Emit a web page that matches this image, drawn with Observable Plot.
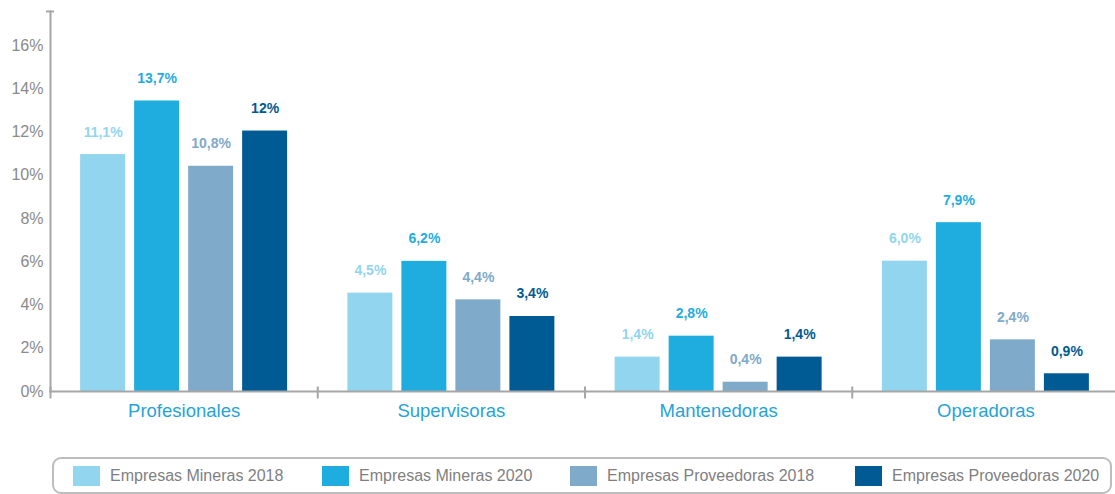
<!DOCTYPE html>
<html><head><meta charset="utf-8">
<script src="https://cdn.jsdelivr.net/npm/d3@7"></script>
<script src="https://cdn.jsdelivr.net/npm/@observablehq/plot@0.6"></script>
<style>
body{margin:0;background:#fff;font-family:"Liberation Sans",Arial,sans-serif;}
#wrap{position:relative;width:1115px;height:494px;overflow:hidden;}
#chart svg{overflow:hidden;}
#legend{position:absolute;left:52px;top:457px;width:1060px;height:37px;border:2px solid #bdbdbd;border-radius:9px;box-sizing:border-box;}
.item{position:absolute;top:0;height:100%;display:flex;align-items:center;font-size:16px;color:#7f7f7f;white-space:nowrap;}
.sw{width:27px;height:20px;margin-right:10px;}
</style></head><body><div id="wrap"><div id="chart"></div><div id="legend"></div></div>
<script>
const categories = ["Profesionales", "Supervisoras", "Mantenedoras", "Operadoras"];
const series = ["Empresas Mineras 2018", "Empresas Mineras 2020", "Empresas Proveedoras 2018", "Empresas Proveedoras 2020"];
const colors = ["#92d5ee", "#1fade0", "#7faac9", "#005a93"];

// bar heights as drawn (percent), by category
const mineras2018 = [10.96, 4.55, 1.59, 6.03];
const mineras2020 = [13.44, 6.02, 2.56, 7.81];
const proveedoras2018 = [10.42, 4.24, 0.43, 2.39];
const proveedoras2020 = [12.05, 3.47, 1.59, 0.82];

// printed value labels, by category
const labelsMineras2018 = ["11,1%", "4,5%", "1,4%", "6,0%"];
const labelsMineras2020 = ["13,7%", "6,2%", "2,8%", "7,9%"];
const labelsProveedoras2018 = ["10,8%", "4,4%", "0,4%", "2,4%"];
const labelsProveedoras2020 = ["12%", "3,4%", "1,4%", "0,9%"];

const yTicks = [0, 2, 4, 6, 8, 10, 12, 14, 16];
const yMax = 17.58;

const values = [mineras2018, mineras2020, proveedoras2018, proveedoras2020];
const labels = [labelsMineras2018, labelsMineras2020, labelsProveedoras2018, labelsProveedoras2020];
const rows = [];
categories.forEach((c, i) => series.forEach((s, j) => rows.push({category: c, series: s, value: values[j][i], label: labels[j][i]})));

const axisColor = "#a6a6a6";
const font = "'Liberation Sans', Arial, sans-serif";

const chart = Plot.plot({
  width: 1115, height: 450,
  marginLeft: 50, marginRight: -4, marginTop: 11, marginBottom: 59,
  style: {fontFamily: font, background: "transparent"},
  fx: {domain: categories, padding: 0, round: false, label: null},
  x: {domain: series, paddingInner: 0.167, paddingOuter: 0.558, round: false, axis: null},
  y: {domain: [0, yMax], axis: null},
  color: {domain: series, range: colors},
  marks: [
    Plot.barY(rows, {fx: "category", x: "series", y: "value", fill: "series"}),
    Plot.text(rows, {fx: "category", x: "series", y: "value", text: "label", fill: "series", dy: -18, lineAnchor: "bottom", fontSize: 14, fontWeight: "bold"}),
    Plot.frame({anchor: "left", facet: "super", stroke: axisColor, strokeWidth: 2}),
    Plot.frame({anchor: "bottom", facet: "super", stroke: axisColor, strokeWidth: 2}),
    Plot.frame({anchor: "left", stroke: axisColor, strokeWidth: 2, insetTop: 376, insetBottom: -6}),
    Plot.axisY({ticks: yTicks, tickSize: 0, tickPadding: 7, tickFormat: d => d + "%", fontSize: 16, fill: "#8a8a8a", label: null}),
    Plot.axisY({ticks: [yMax], tickSize: 8, dx: 4, tickFormat: () => "", stroke: axisColor, strokeWidth: 2, label: null}),
    Plot.axisFx({anchor: "bottom", tickSize: 0, tickPadding: 12, fontSize: 18.5, fill: "#27a3d9", label: null})
  ]
});
document.getElementById("chart").appendChild(chart);

const legendLefts = [19, 268, 516, 801];
const legend = document.getElementById("legend");
series.forEach((s, i) => {
  const item = document.createElement("div");
  item.className = "item";
  item.style.left = legendLefts[i] + "px";
  const sw = document.createElement("span");
  sw.className = "sw";
  sw.style.background = colors[i];
  const t = document.createElement("span");
  t.textContent = s;
  item.appendChild(sw); item.appendChild(t);
  legend.appendChild(item);
});
</script></body></html>
